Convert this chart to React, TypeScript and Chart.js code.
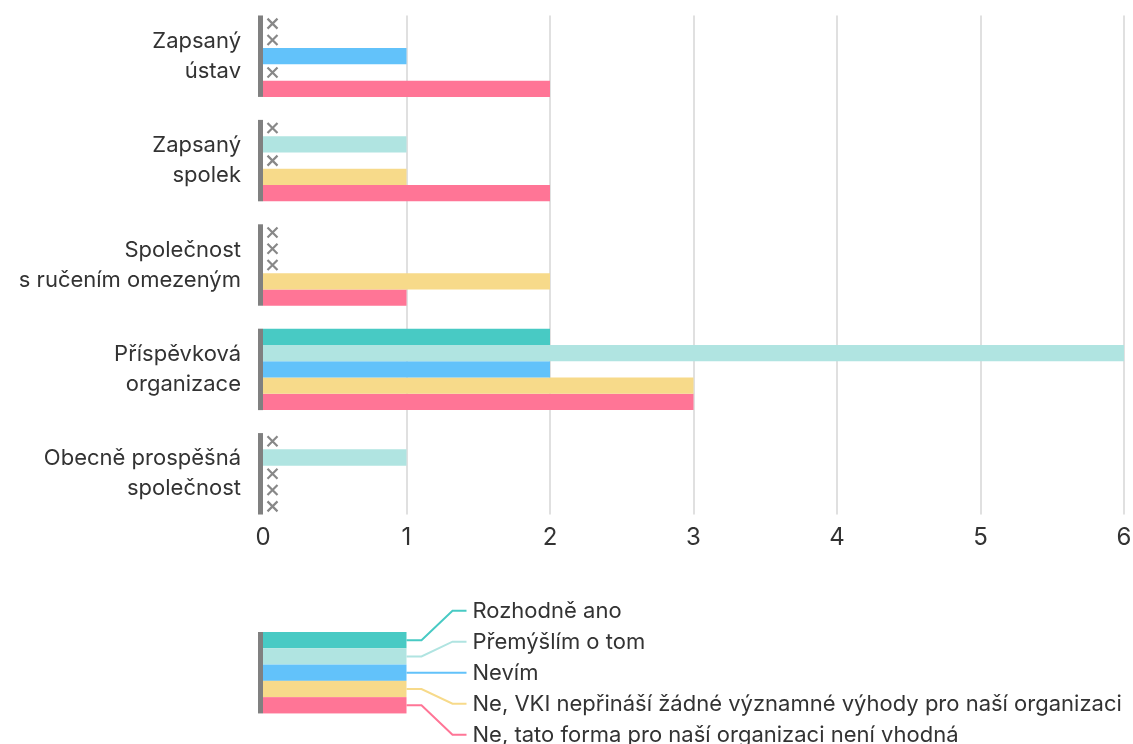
import React, { useEffect, useRef } from "react";
import { Chart, registerables } from "chart.js";
Chart.register(...registerables);

const categories: string[][] = [
  ["Zapsaný", "ústav"],
  ["Zapsaný", "spolek"],
  ["Společnost", "s ručením omezeným"],
  ["Příspěvková", "organizace"],
  ["Obecně prospěšná", "společnost"],
];
const seriesNames = [
  "Rozhodně ano",
  "Přemýšlím o tom",
  "Nevím",
  "Ne, VKI nepřináší žádné významné výhody pro naší organizaci",
  "Ne, tato forma pro naší organizaci není vhodná",
];
const rozhodneAno = [0, 0, 0, 2, 0];
const premyslimOTom = [0, 1, 0, 6, 1];
const nevim = [1, 0, 0, 2, 0];
const neVki = [0, 1, 2, 3, 0];
const neTatoForma = [2, 2, 1, 3, 0];
const seriesColors = ["#48cac4", "#b0e4e1", "#62c2fa", "#f7da8a", "#ff7596"];
const xTicks = [0, 1, 2, 3, 4, 5, 6];

const FONT = "Inter, 'Noto Sans', sans-serif";
const TEXT = "#333333";

const overlay = {
  id: "overlay",
  beforeDatasetsDraw(chart: any) {
    const { ctx } = chart;
    const x = chart.scales.x;
    const metas = chart.getSortedVisibleDatasetMetas();
    const first = metas[0].data[0];
    const lastMeta = metas[metas.length - 1];
    const last = lastMeta.data[lastMeta.data.length - 1];
    const top = first.y - first.height / 2;
    const bottom = last.y + last.height / 2;
    ctx.save();
    ctx.strokeStyle = "#e0e0e0";
    ctx.lineWidth = 2;
    xTicks.forEach((v) => {
      if (v === 0) return;
      const px = Math.round(x.getPixelForValue(v));
      ctx.beginPath();
      ctx.moveTo(px, top);
      ctx.lineTo(px, bottom);
      ctx.stroke();
    });
    ctx.restore();
  },
  afterDatasetsDraw(chart: any) {
    const { ctx, chartArea } = chart;
    const x = chart.scales.x;
    const metas = chart.getSortedVisibleDatasetMetas();
    const x0 = x.getPixelForValue(0);
    const x1 = x.getPixelForValue(1);
    ctx.save();
    // group markers
    ctx.fillStyle = "#808080";
    for (let i = 0; i < categories.length; i++) {
      const a = metas[0].data[i];
      const b = metas[metas.length - 1].data[i];
      const t = a.y - a.height / 2;
      const btm = b.y + b.height / 2;
      ctx.fillRect(x0 - 5, t, 5, btm - t);
    }
    // zero markers
    ctx.strokeStyle = "#888888";
    ctx.lineWidth = 2.2;
    metas.forEach((m: any) => {
      const ds = chart.data.datasets[m.index];
      m.data.forEach((el: any, i: number) => {
        if (ds.data[i] === 0) {
          const cx = x0 + 9.5;
          const cy = el.y;
          const s = 5;
          ctx.beginPath();
          ctx.moveTo(cx - s, cy - s);
          ctx.lineTo(cx + s, cy + s);
          ctx.moveTo(cx + s, cy - s);
          ctx.lineTo(cx - s, cy + s);
          ctx.stroke();
        }
      });
    });
    // legend
    const h = metas[0].data[0].height;
    const legTop = chartArea.bottom + 106;
    const n = seriesNames.length;
    for (let k = 0; k < n; k++) {
      ctx.fillStyle = seriesColors[k];
      ctx.fillRect(x0, legTop + k * h, x1 - x0, h);
    }
    ctx.fillStyle = "#808080";
    ctx.fillRect(x0 - 5, legTop, 5, h * n);
    const mid = legTop + (h * n) / 2;
    ctx.font = `22px ${FONT}`;
    ctx.textBaseline = "middle";
    ctx.textAlign = "left";
    for (let k = 0; k < n; k++) {
      const y0 = legTop + k * h + h / 2;
      const y1 = mid + (k - 2) * 31;
      ctx.strokeStyle = seriesColors[k];
      ctx.lineWidth = 2;
      ctx.beginPath();
      ctx.moveTo(x1, y0);
      ctx.lineTo(x1 + 15, y0);
      ctx.lineTo(x1 + 46, y1);
      ctx.lineTo(x1 + 60, y1);
      ctx.stroke();
      ctx.fillStyle = TEXT;
      ctx.fillText(seriesNames[k], x1 + 66, y1 + 1);
    }
    ctx.restore();
  },
};

export default function App() {
  const ref = useRef<HTMLCanvasElement | null>(null);
  useEffect(() => {
    if (!ref.current) return;
    const values = [rozhodneAno, premyslimOTom, nevim, neVki, neTatoForma];
    const chart = new Chart(ref.current, {
      type: "bar",
      data: {
        labels: categories,
        datasets: seriesNames.map((name, i) => ({
          label: name,
          data: values[i],
          backgroundColor: seriesColors[i],
          borderWidth: 0,
          barPercentage: 1,
          categoryPercentage: 0.78,
        })),
      },
      options: {
        indexAxis: "y",
        responsive: false,
        animation: false,
        layout: { padding: { top: 4, right: 9, bottom: 188, left: 0 } },
        plugins: {
          legend: { display: false },
          tooltip: { enabled: false },
        },
        scales: {
          x: {
            min: 0,
            max: 6,
            grid: { display: false, drawTicks: false },
            border: { display: false },
            ticks: {
              stepSize: 1,
              padding: 0,
              color: TEXT,
              font: { family: FONT, size: 24, lineHeight: 1 },
            },
            afterFit: (s: any) => {
              s.height = 30;
              s.paddingLeft = 0;
              s.paddingRight = 0;
            },
          },
          y: {
            grid: { display: false, drawTicks: false },
            border: { display: false },
            ticks: {
              padding: 22,
              color: TEXT,
              font: { family: FONT, size: 22, lineHeight: 1.36 },
            },
            afterFit: (s: any) => {
              s.width = 263;
              s.paddingTop = 0;
              s.paddingBottom = 0;
            },
          },
        },
      },
      plugins: [overlay],
    } as any);
    return () => chart.destroy();
  }, []);
  return (
    <div style={{ position: "absolute", left: 0, top: 0, width: 1133, height: 744, background: "#fff" }}>
      <canvas ref={ref} width={1133} height={744} style={{ display: "block" }} />
    </div>
  );
}
